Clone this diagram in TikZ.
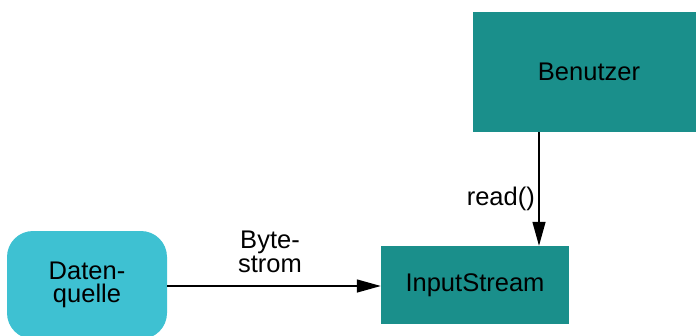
\documentclass[tikz,border=0pt]{standalone}
\usepackage{fontspec}
\setmainfont{Liberation Sans}
\usetikzlibrary{arrows.meta}
\definecolor{tealbox}{HTML}{1A8F8B}
\definecolor{cyanbox}{HTML}{3EC1D2}
\tikzset{
  box/.style={draw=none, fill=tealbox, inner sep=0pt, font=\fontsize{25.5}{23.5}\selectfont},
  srcbox/.style={draw=none, fill=cyanbox, rounded corners=26pt, inner sep=0pt, align=center, font=\fontsize{25.5}{23.5}\selectfont},
  lbl/.style={inner sep=0pt, align=center, font=\fontsize{25.5}{23.5}\selectfont},
  arr/.style={line width=1.4pt, -{Triangle[length=24pt, width=13pt]}}
}
\begin{document}
\begin{tikzpicture}[x=1pt, y=-1pt]
  \useasboundingbox (0,0) rectangle (696,335);
  % nodes
  \node[box, minimum width=232pt, minimum height=120pt] (ben) at (589,72) {Benutzer};
  \node[box, minimum width=188pt, minimum height=78pt] (ins) at (475,285) {InputStream};
  \node[srcbox, minimum width=160pt, minimum height=108pt] (dq) at (87,285) {Daten-\\quelle};
  % connectors
  \coordinate (rx) at (539,0);
  \draw[arr] (ben.south -| rx) -- (ins.north -| rx);
  \draw[arr] (dq.east) ++(0,1) coordinate (dqo) -- (dqo -| ins.west);
  % edge labels
  \node[lbl] (lbyte) at (270,252) {Byte-\\strom};
  \node[lbl, anchor=east] (lread) at (535,199) {read()};
\end{tikzpicture}
\end{document}
